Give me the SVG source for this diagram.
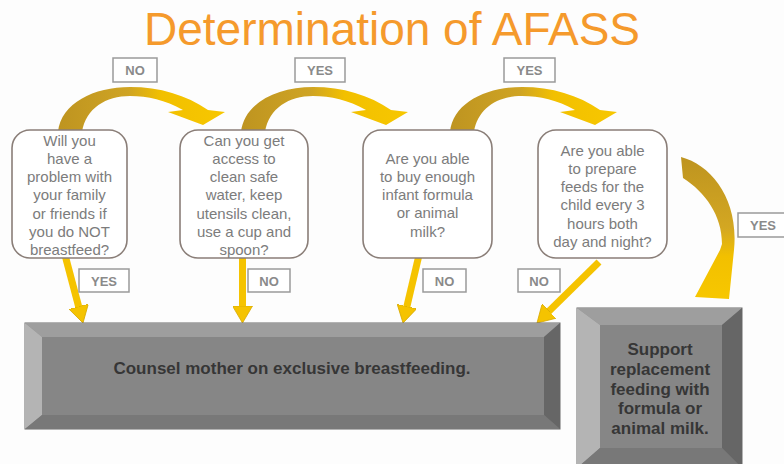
<svg xmlns="http://www.w3.org/2000/svg" width="784" height="464" viewBox="0 0 784 464">
  <defs>
    <linearGradient id="gArc" x1="0" y1="0" x2="1" y2="0">
      <stop offset="0" stop-color="#BE9420"/>
      <stop offset="0.42" stop-color="#CFA424"/>
      <stop offset="0.62" stop-color="#F2C000"/>
      <stop offset="1" stop-color="#F7C700"/>
    </linearGradient>
    <linearGradient id="gSide" x1="0" y1="0" x2="0" y2="1">
      <stop offset="0" stop-color="#BE9420"/>
      <stop offset="0.5" stop-color="#D3A722"/>
      <stop offset="0.7" stop-color="#F2C000"/>
      <stop offset="1" stop-color="#F7C700"/>
    </linearGradient>
    <marker id="head" viewBox="0 -10 17 20" markerWidth="17" markerHeight="20" refX="1" refY="0" orient="auto" markerUnits="userSpaceOnUse">
      <path d="M0,-10 L17,0 L0,10 Z" fill="#F5C300" stroke="#D8AA00" stroke-width="0.8"/>
    </marker>
    <path id="arc" d="M58,132 C61,103 94,87 130,87 C160,87 186,95 208,110 L225,112 L203,125 L168,112 L183,110 C165,100 148,96 130,96 C106,96 86,108 82,132 Z"/>
  </defs>
  <style>
    .q { fill:#ffffff; stroke:#8a7e78; stroke-width:1.6; }
    .qt { font-family:"Liberation Sans", Arial, sans-serif; font-size:15px; fill:#7c7c7c; text-anchor:middle; }
    .lb { fill:#ffffff; stroke:#9a9a9a; stroke-width:1.5; }
    .lt { font-family:"Liberation Sans", Arial, sans-serif; font-size:13px; font-weight:bold; fill:#8a8a8a; text-anchor:middle; }
    .bt { font-family:"Liberation Sans", Arial, sans-serif; font-size:17px; font-weight:bold; fill:#363636; text-anchor:middle; }
    .down { stroke:#F5C300; stroke-width:7; fill:none; }
    .face { fill:#868686; stroke:#6a6a6a; stroke-width:1; }
    .bvT { fill:#9e9e9e; }
    .bvL { fill:#b4b4b4; }
    .bvB { fill:#787878; }
    .bvR { fill:#666666; }
  </style>

  <rect x="0" y="0" width="784" height="464" fill="#fdfdfd"/>

  <text x="392" y="45" font-family="'Liberation Sans', Arial, sans-serif" font-size="46" fill="#F59A2C" text-anchor="middle">Determination of AFASS</text>

  <g id="connectors">
    <use href="#arc" fill="url(#gArc)"/>
    <use href="#arc" fill="url(#gArc)" transform="translate(183,0)"/>
    <use href="#arc" fill="url(#gArc)" transform="translate(392,0)"/>
    <path d="M681,157 C712,165 739,200 734,250 L729,299 L695,297 L720,250 L722,244 C722,215 705,192 683,178 Z" fill="url(#gSide)"/>
    <line class="down" x1="65" y1="255" x2="78.9" y2="307.5" marker-end="url(#head)"/>
    <line class="down" x1="242.5" y1="255" x2="242.5" y2="307" marker-end="url(#head)"/>
    <line class="down" x1="419" y1="255" x2="406.7" y2="307.4" marker-end="url(#head)"/>
    <line class="down" x1="599" y1="262" x2="548.4" y2="311.8" marker-end="url(#head)"/>
  </g>

  <g id="q1">
    <rect class="q" x="12" y="130" width="115" height="128" rx="18"/>
    <text class="qt"><tspan x="69.5" y="145.5">Will you</tspan><tspan x="69.5" y="163.8">have a</tspan><tspan x="69.5" y="182.1">problem with</tspan><tspan x="69.5" y="200.4">your family</tspan><tspan x="69.5" y="218.7">or friends if</tspan><tspan x="69.5" y="237">you do NOT</tspan><tspan x="69.5" y="255.3">breastfeed?</tspan></text>
  </g>
  <g id="q2">
    <rect class="q" x="180" y="130" width="128" height="128" rx="18"/>
    <text class="qt"><tspan x="244" y="145.5">Can you get</tspan><tspan x="244" y="163.8">access to</tspan><tspan x="244" y="182.1">clean safe</tspan><tspan x="244" y="200.4">water, keep</tspan><tspan x="244" y="218.7">utensils clean,</tspan><tspan x="244" y="237">use a cup and</tspan><tspan x="244" y="255.3">spoon?</tspan></text>
  </g>
  <g id="q3">
    <rect class="q" x="363" y="130" width="129" height="128" rx="18"/>
    <text class="qt"><tspan x="427.5" y="163.5">Are you able</tspan><tspan x="427.5" y="181.8">to buy enough</tspan><tspan x="427.5" y="200.1">infant formula</tspan><tspan x="427.5" y="218.4">or animal</tspan><tspan x="427.5" y="236.7">milk?</tspan></text>
  </g>
  <g id="q4">
    <rect class="q" x="538" y="130" width="129" height="128" rx="18"/>
    <text class="qt"><tspan x="602.5" y="155.5">Are you able</tspan><tspan x="602.5" y="173.8">to prepare</tspan><tspan x="602.5" y="192.1">feeds for the</tspan><tspan x="602.5" y="210.4">child every 3</tspan><tspan x="602.5" y="228.7">hours both</tspan><tspan x="602.5" y="247">day and night?</tspan></text>
  </g>

  <g id="labels">
    <rect class="lb" x="113" y="58" width="44" height="24"/><text class="lt" x="135" y="75">NO</text>
    <rect class="lb" x="295" y="58" width="50" height="24"/><text class="lt" x="320" y="75">YES</text>
    <rect class="lb" x="504" y="58" width="51" height="24"/><text class="lt" x="529.5" y="75">YES</text>
    <rect class="lb" x="738" y="213" width="52" height="24"/><text class="lt" x="763" y="230">YES</text>
    <rect class="lb" x="79" y="269" width="50" height="23"/><text class="lt" x="104" y="285.5">YES</text>
    <rect class="lb" x="248" y="269" width="42" height="23"/><text class="lt" x="269" y="285.5">NO</text>
    <rect class="lb" x="423" y="269" width="43" height="23"/><text class="lt" x="444.5" y="285.5">NO</text>
    <rect class="lb" x="518" y="269" width="42" height="23"/><text class="lt" x="539" y="285.5">NO</text>
  </g>

  <g id="counsel">
    <rect class="face" x="25" y="323" width="535" height="106"/>
    <polygon class="bvT" points="25,323 560,323 544,337 42,337"/>
    <polygon class="bvL" points="25,323 42,337 42,415 25,429"/>
    <polygon class="bvB" points="25,429 42,415 544,415 560,429"/>
    <polygon class="bvR" points="560,323 560,429 544,415 544,337"/>
    <text class="bt" x="292" y="374">Counsel mother on exclusive breastfeeding.</text>
  </g>

  <g id="support">
    <rect class="face" x="577" y="308" width="165" height="160"/>
    <polygon class="bvT" points="577,308 742,308 722,325 600,325"/>
    <polygon class="bvL" points="577,308 600,325 600,448 577,468"/>
    <polygon class="bvB" points="577,468 600,448 722,448 742,468"/>
    <polygon class="bvR" points="742,308 742,468 722,448 722,325"/>
    <text class="bt"><tspan x="660" y="355">Support</tspan><tspan x="660" y="375">replacement</tspan><tspan x="660" y="395">feeding with</tspan><tspan x="660" y="414">formula or</tspan><tspan x="660" y="434">animal milk.</tspan></text>
  </g>
</svg>
